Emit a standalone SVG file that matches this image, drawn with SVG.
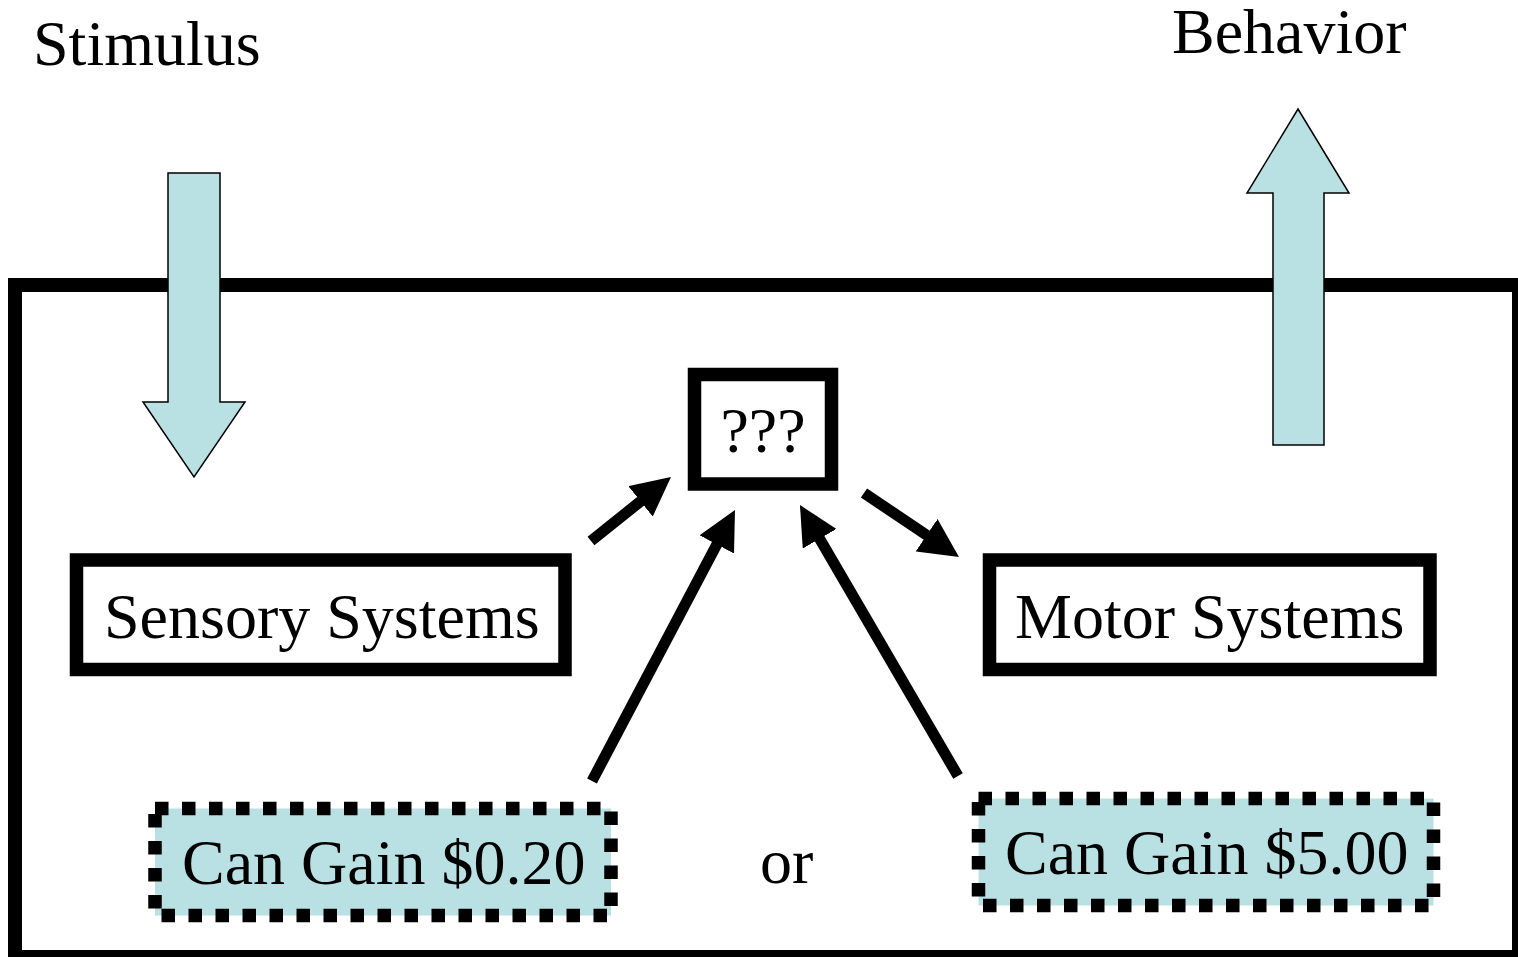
<svg xmlns="http://www.w3.org/2000/svg" width="1518" height="957" viewBox="0 0 1518 957">
  <style>
    .label { font-family: "Liberation Serif", "Times New Roman", serif; font-size: 64px; fill: #000; }
    .box { fill: #fff; stroke: #000; stroke-width: 13.5; }
    .dashed { fill: #b9e0e3; stroke: #000; stroke-width: 13.5; stroke-dasharray: 13.5 13.5; }
    .bigarrow { fill: #b9e0e3; stroke: #000; stroke-width: 1.5; stroke-linejoin: miter; }
    .link { stroke: #000; stroke-width: 11; fill: none; marker-end: url(#head); }
  </style>
  <defs>
    <marker id="head" markerUnits="userSpaceOnUse" markerWidth="40" markerHeight="40" viewBox="0 0 40 40" refX="2" refY="19.5" orient="auto">
      <path d="M0,0 L39,19.5 L0,39 Z" fill="#000"/>
    </marker>
  </defs>

  <rect width="1518" height="957" fill="#fff"/>

  <!-- organism boundary -->
  <g id="organism">
    <rect x="15" y="285" width="1504" height="672" fill="none" stroke="#000" stroke-width="14"/>
  </g>

  <!-- input and output -->
  <g id="stimulus">
    <text class="label" x="33" y="65">Stimulus</text>
    <polygon class="bigarrow" points="168,173 220,173 220,402 245,402 194,477 143,402 168,402"/>
  </g>
  <g id="behavior">
    <text class="label" x="1172" y="53">Behavior</text>
    <polygon class="bigarrow" points="1298,109 1349,193 1324,193 1324,445 1273,445 1273,193 1247,193"/>
  </g>

  <!-- processing stages -->
  <g id="unknown">
    <rect class="box" x="694.5" y="374.5" width="137" height="109.5"/>
    <text class="label" x="763" y="452" text-anchor="middle">???</text>
  </g>
  <g id="sensory">
    <rect class="box" x="76.5" y="560" width="488.5" height="109.5"/>
    <text class="label" x="104" y="638">Sensory Systems</text>
  </g>
  <g id="motor">
    <rect class="box" x="989.5" y="560" width="440.5" height="109.5"/>
    <text class="label" x="1015" y="638">Motor Systems</text>
  </g>

  <!-- reward conditions -->
  <g id="gain-small">
    <rect class="dashed" x="155" y="808.5" width="456" height="107"/>
    <text class="label" x="182" y="884">Can Gain $0.20</text>
  </g>
  <g id="or-label">
    <text class="label" x="760" y="883">or</text>
  </g>
  <g id="gain-large">
    <rect class="dashed" x="978.5" y="798.5" width="455" height="107"/>
    <text class="label" x="1005" y="874">Can Gain $5.00</text>
  </g>

  <!-- connectors -->
  <g id="connectors">
    <line class="link" x1="591" y1="541" x2="642.1" y2="500.1"/>
    <line class="link" x1="592" y1="781" x2="717.7" y2="542.7"/>
    <line class="link" x1="958" y1="776" x2="818.6" y2="537"/>
    <line class="link" x1="864" y1="493" x2="928.3" y2="536.3"/>
  </g>
</svg>
